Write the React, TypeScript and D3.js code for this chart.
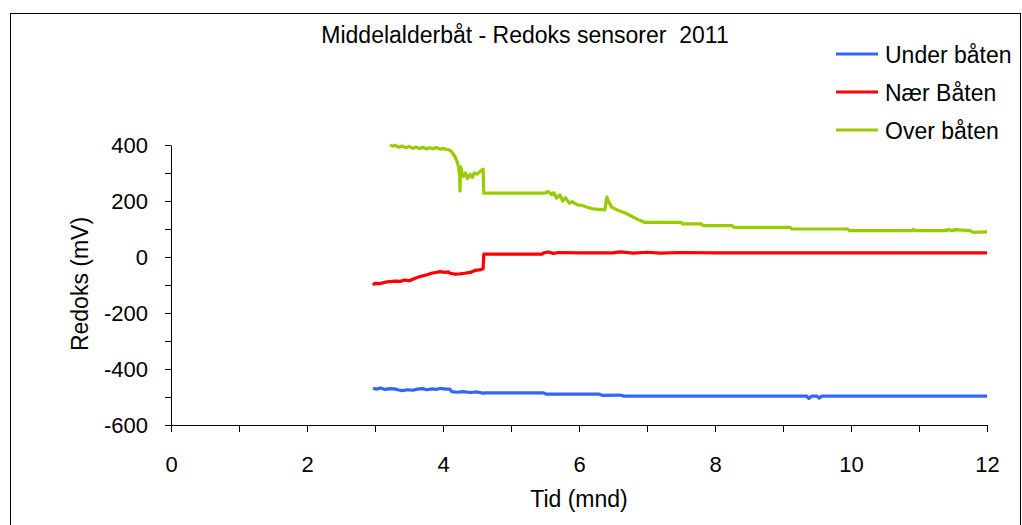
import * as d3 from "d3";
import { useRef, useEffect } from "react";

// Tid (mnd) og redoks (mV) for hver sensor, lest av figuren
const underTid = [2.97, 3.02, 3.08, 3.15, 3.22, 3.28, 3.35, 3.4, 3.48, 3.56, 3.62, 3.7, 3.76, 3.84, 3.9, 3.96, 4.04, 4.1, 4.13, 4.2, 4.3, 4.4, 4.5, 4.59, 4.62, 5.0, 5.48, 5.52, 6.0, 6.3, 6.34, 6.6, 6.66, 7.0, 8.0, 9.0, 9.35, 9.38, 9.42, 9.5, 9.53, 9.57, 10.0, 11.0, 12.0];
const underMv = [-469, -472, -468, -473, -470, -471, -475, -477, -474, -476, -472, -470, -474, -471, -473, -469, -472, -472, -481, -483, -481, -484, -482, -486, -485, -485, -485, -490, -490, -490, -494, -493, -497, -497, -497, -497, -497, -505, -497, -497, -504, -497, -497, -497, -497];

const naerTid = [2.97, 3.0, 3.07, 3.15, 3.22, 3.3, 3.37, 3.44, 3.51, 3.59, 3.66, 3.72, 3.76, 3.83, 3.9, 3.96, 4.03, 4.08, 4.1, 4.18, 4.25, 4.32, 4.4, 4.47, 4.54, 4.59, 4.6, 5.46, 5.48, 5.55, 5.62, 5.7, 6.0, 6.5, 6.6, 6.8, 7.0, 7.2, 7.5, 8.0, 9.0, 10.0, 11.0, 12.0];
const naerMv = [-100, -94, -95, -90, -88, -86, -87, -82, -85, -76, -70, -66, -64, -58, -55, -52, -55, -53, -58, -61, -60, -58, -55, -48, -46, -42, 10, 10, 15, 18, 13, 16, 15, 15, 18, 14, 17, 14, 16, 15, 15, 15, 15, 15];

const overTid = [3.22, 3.26, 3.3, 3.35, 3.4, 3.46, 3.5, 3.56, 3.6, 3.66, 3.7, 3.76, 3.8, 3.86, 3.9, 3.96, 4.0, 4.05, 4.1, 4.14, 4.18, 4.21, 4.23, 4.245, 4.25, 4.26, 4.28, 4.3, 4.33, 4.36, 4.4, 4.43, 4.46, 4.5, 4.55, 4.59, 4.6, 5.5, 5.55, 5.6, 5.63, 5.67, 5.72, 5.76, 5.8, 5.86, 5.9, 5.98, 6.05, 6.12, 6.2, 6.3, 6.38, 6.41, 6.44, 6.48, 6.53, 6.6, 6.7, 6.8, 6.9, 6.96, 7.5, 7.52, 7.8, 7.83, 8.25, 8.28, 9.1, 9.13, 9.95, 9.98, 10.9, 10.92, 10.94, 11.4, 11.42, 11.5, 11.52, 11.75, 11.8, 12.0];
const overMv = [400, 396, 399, 392, 396, 390, 395, 388, 393, 387, 392, 386, 390, 386, 391, 385, 388, 384, 382, 372, 356, 340, 318, 290, 236, 322, 300, 288, 300, 280, 296, 284, 300, 296, 306, 314, 228, 228, 234, 222, 230, 210, 222, 200, 212, 192, 198, 186, 184, 178, 172, 170, 168, 214, 196, 178, 172, 164, 155, 142, 130, 124, 124, 118, 118, 112, 112, 106, 106, 100, 100, 94, 94, 99, 94, 94, 98, 94, 98, 94, 88, 90];

const seriesNames = ["Under båten", "Nær Båten", "Over båten"];
const seriesColors = ["#3366FF", "#FF0000", "#99CC00"];
const xTicks = [0, 1, 2, 3, 4, 5, 6, 7, 8, 9, 10, 11, 12];
const yTicks = [-600, -500, -400, -300, -200, -100, 0, 100, 200, 300, 400];

const font = "'Liberation Sans', Arial, sans-serif";

export default function App() {
  const width = 1022;
  const height = 525;
  const gx = useRef<SVGGElement>(null);
  const gy = useRef<SVGGElement>(null);

  const x = d3.scaleLinear().domain([0, 12]).range([171, 987]);
  const y = d3.scaleLinear().domain([-600, 400]).range([425, 145]);

  const series = [
    { t: underTid, v: underMv },
    { t: naerTid, v: naerMv },
    { t: overTid, v: overMv },
  ];

  const line = d3
    .line<[number, number]>()
    .x((d) => x(d[0]))
    .y((d) => y(d[1]));

  useEffect(() => {
    const ax = d3
      .axisBottom(x)
      .tickValues(xTicks)
      .tickFormat((d) => ((d as number) % 2 === 0 ? String(d) : ""))
      .tickSize(7)
      .tickSizeOuter(0)
      .tickPadding(24);
    const gX = d3.select(gx.current!).call(ax);
    gX.selectAll("text").attr("font-size", 22).attr("font-family", font).attr("fill", "#000");
    gX.selectAll("line,path").attr("stroke", "#000");

    const ay = d3
      .axisLeft(y)
      .tickValues(yTicks)
      .tickFormat((d) => ((d as number) % 200 === 0 ? String(d) : ""))
      .tickSize(6)
      .tickSizeOuter(0)
      .tickPadding(17);
    const gY = d3.select(gy.current!).call(ay);
    gY.selectAll("text").attr("font-size", 22).attr("font-family", font).attr("fill", "#000");
    gY.selectAll("line,path").attr("stroke", "#000");
  }, []);

  return (
    <svg width={width} height={height} style={{ position: "absolute", left: 0, top: 0, background: "#fff" }}>
      <rect x={10.5} y={13.5} width={1010} height={530} fill="#fff" stroke="#000" strokeWidth={1} />
      <text x={525} y={43} textAnchor="middle" fontFamily={font} fontSize={23} style={{ whiteSpace: "pre" }}>
        {"Middelalderbåt - Redoks sensorer  2011"}
      </text>

      {series.map((s, i) => (
        <path
          key={i}
          d={line(s.t.map((t, j) => [t, s.v[j]] as [number, number])) || ""}
          fill="none"
          stroke={seriesColors[i]}
          strokeWidth={3.2}
          strokeLinejoin="round"
        />
      ))}

      <g ref={gx} transform="translate(0,425)" />
      <g ref={gy} transform="translate(171,0)" />

      <text x={579} y={507} textAnchor="middle" fontFamily={font} fontSize={23}>
        Tid (mnd)
      </text>
      <text
        transform="translate(88,284) rotate(-90)"
        textAnchor="middle"
        fontFamily={font}
        fontSize={23}
      >
        Redoks (mV)
      </text>

      {seriesNames.map((name, i) => (
        <g key={name} transform={`translate(0,${54 + i * 38})`}>
          <line x1={836} x2={878} y1={0} y2={0} stroke={seriesColors[i]} strokeWidth={3} />
          <text x={885} y={9} fontFamily={font} fontSize={23}>
            {name}
          </text>
        </g>
      ))}
    </svg>
  );
}
